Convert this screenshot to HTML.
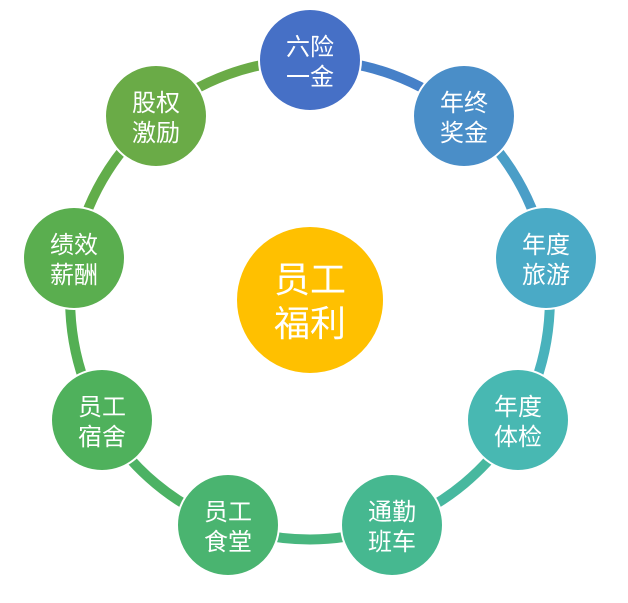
<!DOCTYPE html>
<html><head><meta charset="utf-8"><style>
html,body{margin:0;padding:0;background:#fff;width:628px;height:603px;overflow:hidden}
text{font-family:"Liberation Sans","Noto Sans CJK SC",sans-serif;fill:#fff}
</style></head><body>
<svg width="628" height="603" viewBox="0 0 628 603" xmlns="http://www.w3.org/2000/svg">
<g fill="none" stroke-width="10">
<path d="M310 60 A240 240 0 0 1 464 116" stroke="#4680c8"/>
<path d="M464 116 A240 240 0 0 1 546 258" stroke="#4a9ec7"/>
<path d="M546 258 A240 240 0 0 1 518 420" stroke="#49b2bc"/>
<path d="M518 420 A240 240 0 0 1 392 525" stroke="#47b89f"/>
<path d="M392 525 A240 240 0 0 1 228 525" stroke="#48b67e"/>
<path d="M228 525 A240 240 0 0 1 102 420" stroke="#4cb264"/>
<path d="M102 420 A240 240 0 0 1 74 258" stroke="#54af54"/>
<path d="M74 258 A240 240 0 0 1 156 116" stroke="#62ad4a"/>
<path d="M156 116 A240 240 0 0 1 310 60" stroke="#6aab47"/>
</g>
<g stroke="#fff" stroke-width="2">
<circle cx="310" cy="60" r="51" fill="#4670c6"/>
<circle cx="464" cy="116" r="51" fill="#4a8ec8"/>
<circle cx="546" cy="258" r="51" fill="#4aaac6"/>
<circle cx="518" cy="420" r="51" fill="#48b8b2"/>
<circle cx="392" cy="525" r="51" fill="#46b890"/>
<circle cx="228" cy="525" r="51" fill="#4ab470"/>
<circle cx="102" cy="420" r="51" fill="#4fb15c"/>
<circle cx="74" cy="258" r="51" fill="#5aae4f"/>
<circle cx="156" cy="116" r="51" fill="#6aab47"/>
<circle cx="310" cy="300" r="74" fill="#ffc000"/>
</g>
<g font-size="24" text-anchor="middle">
<text x="310" y="55">六险</text><text x="310" y="85">一金</text>
<text x="464" y="111">年终</text><text x="464" y="141">奖金</text>
<text x="546" y="253">年度</text><text x="546" y="283">旅游</text>
<text x="518" y="415">年度</text><text x="518" y="445">体检</text>
<text x="392" y="520">通勤</text><text x="392" y="550">班车</text>
<text x="228" y="520">员工</text><text x="228" y="550">食堂</text>
<text x="102" y="415">员工</text><text x="102" y="445">宿舍</text>
<text x="74" y="253">绩效</text><text x="74" y="283">薪酬</text>
<text x="156" y="111">股权</text><text x="156" y="141">激励</text>
</g>
<g font-size="36" text-anchor="middle">
<text x="310" y="292">员工</text><text x="310" y="336">福利</text>
</g>
</svg>
</body></html>
